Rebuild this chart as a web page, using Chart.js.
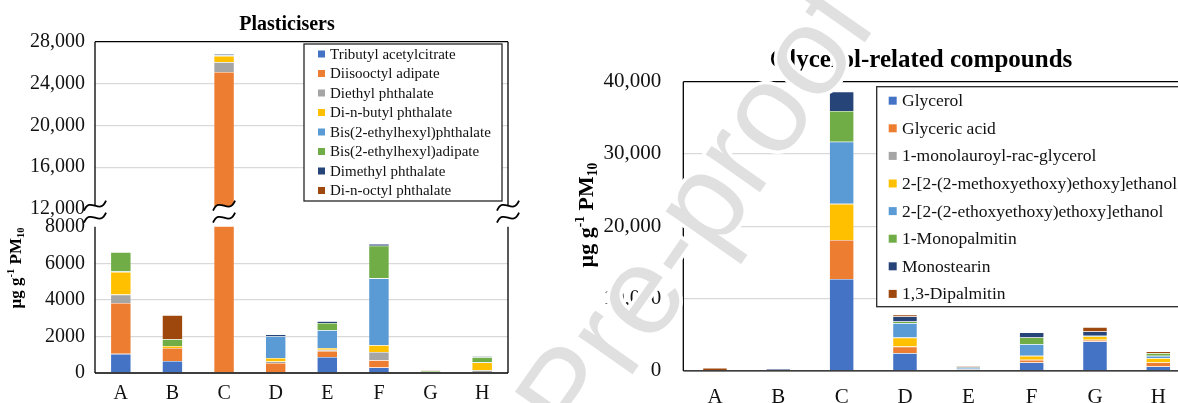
<!DOCTYPE html>
<html>
<head>
<meta charset="utf-8">
<script src="https://cdn.jsdelivr.net/npm/chart.js@4.4.1/dist/chart.umd.min.js"></script>
<style>
  html, body { margin: 0; padding: 0; background: #fff; overflow: hidden; width: 1178px; height: 403px; }
  .box { position: absolute; }
  #mark { position: absolute; left: 0; top: 0; pointer-events: none; }
</style>
</head>
<body>
<div class="box" style="left:0;top:0;width:574px;height:231px"><canvas id="plastTop"></canvas></div>
<div class="box" style="left:0;top:190px;width:574px;height:225px"><canvas id="plastBottom"></canvas></div>
<div class="box" style="left:575px;top:0;width:692px;height:425px"><canvas id="glycerol"></canvas></div>
<canvas id="mark" width="1178" height="403"></canvas>
<script>
const categories = ['A', 'B', 'C', 'D', 'E', 'F', 'G', 'H'];

// plasticisers, µg g-1 PM10 (stack order bottom -> top)
const plastNames = ['Tributyl acetylcitrate', 'Diisooctyl adipate', 'Diethyl phthalate', 'Di-n-butyl phthalate',
  'Bis(2-ethylhexyl)phthalate', 'Bis(2-ethylhexyl)adipate', 'Dimethyl phthalate', 'Di-n-octyl phthalate'];
const tributyl   = [1050, 660, 0, 0, 880, 300, 0, 0];
const diisooctyl = [2780, 710, 25100, 550, 330, 400, 0, 60];
const diethyl    = [460, 0, 950, 80, 60, 455, 0, 90];
const dibutyl    = [1240, 110, 600, 190, 100, 370, 0, 430];
const dehp       = [40, 0, 80, 1200, 970, 3650, 0, 20];
const deha       = [1040, 370, 0, 0, 400, 1790, 120, 260];
const dimethyl   = [0, 0, 80, 90, 90, 90, 0, 60];
const dioctyl    = [0, 1316, 0, 0, 0, 0, 30, 0];
const plastUpperTicks = [12000, 28000, 4000];
const plastLowerTicks = [0, 8000, 2000];

// glycerol-related compounds
const glyNames = ['Glycerol', 'Glyceric acid', '1-monolauroyl-rac-glycerol', '2-[2-(2-methoxyethoxy)ethoxy]ethanol',
  '2-[2-(2-ethoxyethoxy)ethoxy]ethanol', '1-Monopalmitin', 'Monostearin', '1,3-Dipalmitin'];
const glycerol     = [0, 0, 12700, 2450, 150, 1150, 4060, 600];
const glycericAcid = [0, 0, 5400, 900, 0, 370, 230, 550];
const monolauroyl  = [0, 0, 0, 0, 100, 0, 0, 0];
const methoxy      = [0, 0, 5000, 1250, 0, 550, 460, 600];
const ethoxy       = [0, 0, 8600, 2000, 150, 1620, 0, 320];
const monopalmitin = [0, 0, 4250, 220, 50, 920, 100, 380];
const monostearin  = [0, 250, 2670, 700, 150, 690, 600, 0];
const dipalmitin   = [400, 0, 0, 240, 100, 0, 600, 220];
const glyTicks = [0, 40000, 10000];

const colors = ['#4472C4', '#ED7D31', '#A5A5A5', '#FFC000', '#5B9BD5', '#70AD47', '#264478', '#9E480E'];
const serif = '"Liberation Serif", "Times New Roman", serif';

function makeSets(names, series) {
  return series.map((d, i) => ({
    label: names[i],
    data: d,
    backgroundColor: colors[i],
    borderColor: 'rgba(255,255,255,0.35)',
    borderWidth: 0.6,
  }));
}

// chart heading placed where Excel put it (not centred on the plot)
const heading = {
  id: 'heading',
  afterDraw(chart, args, o) {
    const ctx = chart.ctx;
    ctx.save();
    ctx.font = 'bold ' + o.size + 'px ' + serif;
    ctx.fillStyle = '#000';
    ctx.textAlign = 'center';
    ctx.textBaseline = 'middle';
    ctx.fillText(o.text, o.x, o.y);
    ctx.restore();
  }
};

// draws the black plot frame on chosen sides
const frame = {
  id: 'frame',
  afterDatasetsDraw(chart, args, o) {
    const { left, right, top, bottom } = chart.chartArea;
    const ctx = chart.ctx;
    ctx.save();
    ctx.strokeStyle = '#000';
    ctx.lineWidth = 1.3;
    ctx.beginPath();
    if (o.sides.includes('top')) { ctx.moveTo(left, top); ctx.lineTo(right, top); }
    if (o.sides.includes('bottom')) { ctx.moveTo(left, bottom); ctx.lineTo(right, bottom); }
    if (o.sides.includes('left')) { ctx.moveTo(left, top); ctx.lineTo(left, bottom); }
    if (o.sides.includes('right')) { ctx.moveTo(right, top); ctx.lineTo(right, bottom); }
    ctx.stroke();
    ctx.restore();
  }
};

// Excel-like legend box inside the plot
const boxLegend = {
  id: 'boxLegend',
  afterDraw(chart, args, o) {
    const ctx = chart.ctx;
    ctx.save();
    ctx.fillStyle = '#fff';
    ctx.fillRect(o.x, o.y, o.w, o.h);
    ctx.strokeStyle = '#262626';
    ctx.lineWidth = 1.3;
    ctx.strokeRect(o.x, o.y, o.w, o.h);
    ctx.font = o.size + 'px ' + serif;
    ctx.textBaseline = 'middle';
    chart.data.datasets.forEach((ds, i) => {
      const cy = o.first + i * o.step;
      ctx.fillStyle = ds.backgroundColor;
      ctx.fillRect(o.markX, cy - o.mark / 2, o.mark, o.mark);
      ctx.fillStyle = '#111';
      ctx.fillText(ds.label, o.textX, cy + 1);
    });
    ctx.restore();
  }
};

// rotated "µg g-1 PM10" with super/subscripts
const unitTitle = {
  id: 'unitTitle',
  afterDraw(chart, args, o) {
    const ctx = chart.ctx;
    const s = o.size;
    const parts = [['\u00b5g g', s, 0], ['-1', s * 0.62, -s * 0.38], [' PM', s, 0], ['10', s * 0.62, s * 0.2]];
    ctx.save();
    ctx.translate(o.x, o.y);
    ctx.rotate(-Math.PI / 2);
    ctx.fillStyle = '#000';
    let total = 0;
    parts.forEach(p => {
      ctx.font = 'bold ' + p[1] + 'px ' + serif;
      p.push(ctx.measureText(p[0]).width);
      total += p[3];
    });
    let x = -total / 2;
    parts.forEach(p => {
      ctx.font = 'bold ' + p[1] + 'px ' + serif;
      ctx.fillText(p[0], x, s * 0.35 + p[2]);
      x += p[3];
    });
    ctx.restore();
  }
};

// axis-break marks between the two plasticiser panels
const breaks = {
  id: 'breaks',
  afterDraw(chart, args, o) {
    const ctx = chart.ctx;
    const { left, right, top } = chart.chartArea;
    const cy = top - 15;
    const xs = [left, chart.scales.x.getPixelForValue(o.index), right];
    xs.forEach(cx => {
      const wave = (dy, rev) => {
        if (!rev) {
          ctx.moveTo(cx - 11, cy + dy + 5);
          ctx.bezierCurveTo(cx - 5, cy + dy - 10, cx + 5, cy + dy + 10, cx + 11, cy + dy - 5);
        } else {
          ctx.lineTo(cx + 11, cy + dy - 5);
          ctx.bezierCurveTo(cx + 5, cy + dy + 10, cx - 5, cy + dy - 10, cx - 11, cy + dy + 5);
        }
      };
      ctx.save();
      ctx.beginPath();
      wave(-6, false);
      wave(6, true);
      ctx.closePath();
      ctx.fillStyle = '#fff';
      ctx.fill();
      ctx.beginPath();
      wave(-6, false);
      ctx.moveTo(cx - 11, cy + 11);
      ctx.bezierCurveTo(cx - 5, cy - 4, cx + 5, cy + 16, cx + 11, cy + 1);
      ctx.strokeStyle = '#000';
      ctx.lineWidth = 1.8;
      ctx.stroke();
      ctx.restore();
    });
  }
};

function yAxis(range, width, pad, fmt) {
  return {
    stacked: true,
    min: range[0],
    max: range[1],
    afterFit(scale) { scale.width = width; },
    ticks: {
      stepSize: range[2],
      padding: pad,
      color: '#111',
      font: { family: serif, size: 20 },
      callback: fmt,
    },
    grid: {
      drawTicks: false,
      lineWidth: 1.3,
      color: c => (c.tick.value === range[0] || c.tick.value === range[1]) ? 'rgba(0,0,0,0)' : '#d9d9d9',
    },
    border: { display: false },
  };
}

const plastSeries = [tributyl, diisooctyl, diethyl, dibutyl, dehp, deha, dimethyl, dioctyl];
const withComma = v => v.toLocaleString('en-US');

new Chart(document.getElementById('plastTop'), {
  type: 'bar',
  data: { labels: categories, datasets: makeSets(plastNames, plastSeries) },
  plugins: [frame, boxLegend, heading],
  options: {
    responsive: true,
    maintainAspectRatio: false,
    animation: false,
    datasets: { bar: { categoryPercentage: 1, barPercentage: 0.4 } },
    layout: { padding: { left: 0, right: 66, top: 41.7, bottom: 0 } },
    plugins: {
      legend: { display: false },
      tooltip: { enabled: false },
      heading: { text: 'Plasticisers', size: 20, x: 287, y: 25 },
      frame: { sides: ['top', 'left', 'right'] },
      boxLegend: { x: 304, y: 44, w: 198, h: 157, first: 54, step: 19.5, mark: 7, markX: 318, textX: 330, size: 15 },
    },
    scales: {
      x: { stacked: true, display: false },
      y: yAxis(plastUpperTicks, 95, 10, withComma),
    },
  },
});

new Chart(document.getElementById('plastBottom'), {
  type: 'bar',
  data: { labels: categories, datasets: makeSets(plastNames, plastSeries) },
  plugins: [frame, breaks, unitTitle],
  options: {
    responsive: true,
    maintainAspectRatio: false,
    animation: false,
    datasets: { bar: { categoryPercentage: 1, barPercentage: 0.4 } },
    layout: { padding: { left: 0, right: 66, top: 36.7, bottom: 0 } },
    plugins: {
      legend: { display: false },
      tooltip: { enabled: false },
      frame: { sides: ['left', 'right', 'bottom'] },
      breaks: { index: 2 },
      unitTitle: { x: 15, y: 78, size: 17 },
    },
    scales: {
      x: {
        stacked: true,
        grid: { display: false, drawTicks: false },
        border: { display: false },
        ticks: { padding: 9, color: '#111', font: { family: serif, size: 20 } },
      },
      y: yAxis(plastLowerTicks, 95, 10, v => String(v)),
    },
  },
});

const glySeries = [glycerol, glycericAcid, monolauroyl, methoxy, ethoxy, monopalmitin, monostearin, dipalmitin];
const glyY = yAxis(glyTicks, 108.3, 22, withComma);
glyY.ticks.font.size = 21;

new Chart(document.getElementById('glycerol'), {
  type: 'bar',
  data: { labels: categories, datasets: makeSets(glyNames, glySeries) },
  plugins: [frame, boxLegend, unitTitle, heading],
  options: {
    responsive: true,
    maintainAspectRatio: false,
    animation: false,
    datasets: { bar: { categoryPercentage: 1, barPercentage: 0.39 } },
    layout: { padding: { left: 0, right: 77, top: 81.7, bottom: 0 } },
    plugins: {
      legend: { display: false },
      tooltip: { enabled: false },
      heading: { text: 'Glycerol-related compounds', size: 25, x: 346, y: 61 },
      frame: { sides: ['top', 'left', 'right', 'bottom'] },
      boxLegend: { x: 301.7, y: 86.7, w: 400, h: 220, first: 100.7, step: 27.6, mark: 8, markX: 313.7, textX: 327, size: 17.5 },
      unitTitle: { x: 10, y: 215, size: 22 },
    },
    scales: {
      x: {
        stacked: true,
        grid: { display: false, drawTicks: false },
        border: { display: false },
        ticks: { padding: 14.5, color: '#111', font: { family: serif, size: 21 } },
      },
      y: glyY,
    },
  },
});

// "Journal Pre-proof" watermark laid over the page, anchored on the second "o"
const wm = document.getElementById('mark').getContext('2d');
const wmSize = 125;
const wmText = 'Journal Pre-proof';
wm.font = wmSize + 'px "Liberation Sans", Arial, sans-serif';
const lead = wm.measureText('Journal Pre-pro').width + wm.measureText('o').width / 2;
wm.translate(812, 61);
wm.rotate(-55 * Math.PI / 180);
wm.lineJoin = 'round';
wm.lineWidth = 7;
wm.strokeStyle = '#fff';
wm.strokeText(wmText, -lead, wmSize * 0.26);
wm.fillStyle = '#e0e0e0';
wm.fillText(wmText, -lead, wmSize * 0.26);
</script>
</body>
</html>
